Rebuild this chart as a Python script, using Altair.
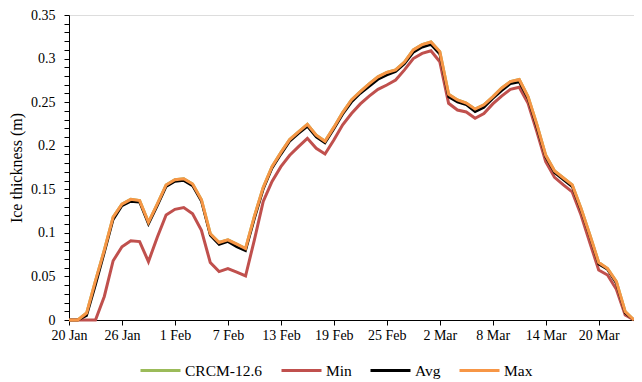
import altair as alt
import pandas as pd

tick_labels = ["20 Jan", "26 Jan", "1 Feb", "7 Feb", "13 Feb", "19 Feb",
               "25 Feb", "2 Mar", "8 Mar", "14 Mar", "20 Mar"]
days = list(range(65))

max_vals = [0, 0, 0.008, 0.045, 0.080, 0.118, 0.133, 0.1385, 0.137, 0.112,
            0.133, 0.155, 0.161, 0.162, 0.156, 0.138, 0.099, 0.089, 0.092, 0.087,
            0.082, 0.119, 0.152, 0.176, 0.192, 0.207, 0.216, 0.2245, 0.212, 0.205,
            0.221, 0.238, 0.2525, 0.262, 0.271, 0.279, 0.284, 0.287, 0.296, 0.310,
            0.316, 0.319, 0.308, 0.259, 0.2525, 0.249, 0.242, 0.247, 0.256, 0.266,
            0.2735, 0.276, 0.256, 0.224, 0.189, 0.171, 0.163, 0.155, 0.128, 0.0975,
            0.066, 0.059, 0.044, 0.0096, 0]

avg_vals = [0, 0, 0.005, 0.040, 0.077, 0.115, 0.131, 0.136, 0.135, 0.110,
            0.131, 0.153, 0.159, 0.160, 0.154, 0.136, 0.097, 0.0865, 0.090, 0.084,
            0.0795, 0.116, 0.150, 0.174, 0.190, 0.205, 0.214, 0.222, 0.210, 0.203,
            0.219, 0.236, 0.250, 0.260, 0.268, 0.276, 0.281, 0.285, 0.294, 0.307,
            0.313, 0.316, 0.305, 0.256, 0.250, 0.247, 0.239, 0.244, 0.254, 0.263,
            0.271, 0.273, 0.254, 0.221, 0.187, 0.169, 0.161, 0.153, 0.126, 0.096,
            0.064, 0.058, 0.042, 0.008, 0]

min_vals = [0, 0, 0, 0, 0.027, 0.068, 0.084, 0.091, 0.090, 0.067,
            0.095, 0.1205, 0.127, 0.129, 0.122, 0.103, 0.066, 0.0555, 0.059, 0.055,
            0.0505, 0.092, 0.136, 0.159, 0.176, 0.189, 0.199, 0.2085, 0.197, 0.1905,
            0.2066, 0.224, 0.237, 0.248, 0.257, 0.2647, 0.2697, 0.2754, 0.287, 0.300,
            0.306, 0.309, 0.2964, 0.2487, 0.241, 0.2387, 0.2315, 0.237, 0.248, 0.257,
            0.2647, 0.267, 0.2487, 0.216, 0.1817, 0.1637, 0.155, 0.147, 0.1205, 0.0887,
            0.0574, 0.0516, 0.0352, 0.0057, 0]

# CRCM-12.6 coincides with the Max curve (hidden beneath it in the figure)
crcm_vals = list(max_vals)

series_names = ["CRCM-12.6", "Min", "Avg", "Max"]
series_colors = ["#9BBB59", "#C0504D", "#000000", "#F79646"]
series_widths = [3, 3, 2.5, 3]

rows = []
for name, vals in zip(series_names, [crcm_vals, min_vals, avg_vals, max_vals]):
    for d, v in zip(days, vals):
        rows.append({"day": d, "value": v, "series": name})
df = pd.DataFrame(rows)

FONT = "Liberation Serif, Times New Roman, serif"
label_expr = "[" + ",".join("'%s'" % t for t in tick_labels) + "][round(datum.value/6)]"
y_ticks = [round(i * 0.01, 2) for i in range(36)]

x_enc = alt.X("day:Q",
              scale=alt.Scale(domain=[0, 64], nice=False, zero=False),
              axis=alt.Axis(values=list(range(0, 61, 6)), labelExpr=label_expr,
                            title=None, grid=False, tickSize=5, labelPadding=3,
                            labelFlush=False, labelBound=False,
                            labelFont=FONT, labelFontSize=14, labelColor="#000",
                            domainColor="#000", tickColor="#000", labelOverlap=False))
y_enc = alt.Y("value:Q",
              scale=alt.Scale(domain=[0, 0.35], nice=False),
              axis=alt.Axis(values=y_ticks,
                            labelExpr="abs(datum.value*20 - round(datum.value*20)) < 1e-6 ? format(datum.value, '~g') : ''",
                            title="Ice thickness (m)", titleFont=FONT, titleFontSize=16,
                            titleFontWeight="normal", titleColor="#000", titlePadding=6,
                            grid=False, tickSize=5, labelPadding=9,
                            labelFlush=False, labelBound=False,
                            labelFont=FONT, labelFontSize=14, labelColor="#000",
                            domainColor="#000", tickColor="#000", labelOverlap=False))
color_enc = alt.Color("series:N",
                      scale=alt.Scale(domain=series_names, range=series_colors),
                      legend=alt.Legend(title=None, orient="none", direction="horizontal",
                                        legendX=70, legendY=334, symbolType="stroke",
                                        symbolSize=1600, symbolStrokeWidth=3,
                                        labelFont=FONT, labelFontSize=15.5, labelColor="#000",
                                        labelOffset=3, columnPadding=12, padding=0))

layers = []
for name, w in zip(series_names, series_widths):
    layers.append(
        alt.Chart(df).transform_filter(alt.datum.series == name)
        .mark_line(strokeWidth=w, strokeJoin="miter")
        .encode(x=x_enc, y=y_enc, color=color_enc)
    )

chart = alt.layer(*layers).properties(
    width=565, height=305,
    autosize=alt.AutoSizeParams(type="none"),
    padding={"left": 61, "top": 7, "right": 0, "bottom": 60},
).configure_view(stroke=None).configure(background="white", font=FONT)

chart.save("out.html", embed_options={"renderer": "svg", "actions": False})
